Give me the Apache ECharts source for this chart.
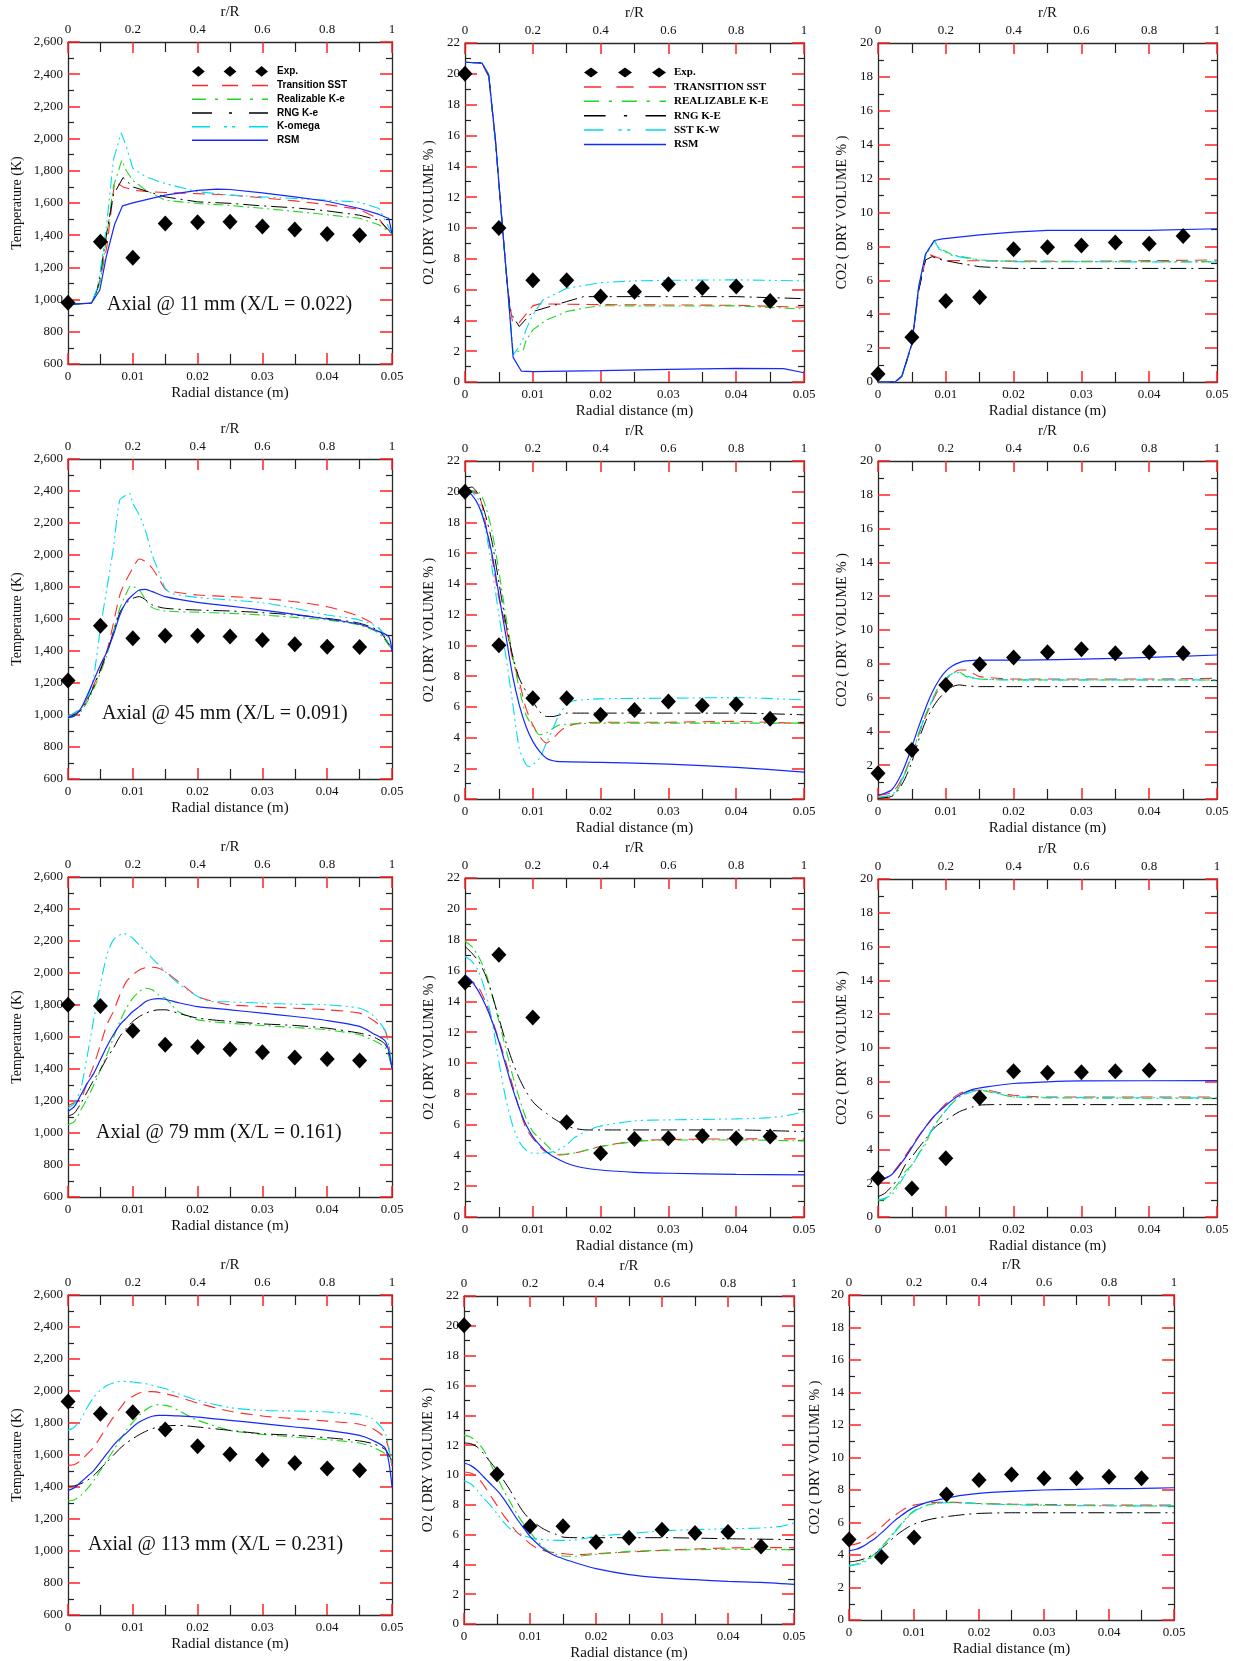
<!DOCTYPE html>
<html><head><meta charset="utf-8">
<script src="https://cdn.jsdelivr.net/npm/echarts/dist/echarts.min.js"></script>
<style>html,body{margin:0;padding:0;background:#fff}#c{width:1233px;height:1661px}</style>
</head><body><div id="c"></div>
<script>
// ---------------- DATA ----------------
const EXP_X = [0,0.005,0.01,0.015,0.02,0.025,0.03,0.035,0.04,0.045];
const X_TICKS = [0,0.01,0.02,0.03,0.04,0.05];
const RR_TICKS = [0,0.2,0.4,0.6,0.8,1];
const ANNOT = ['Axial @ 11 mm (X/L = 0.022)','Axial @ 45 mm (X/L = 0.091)','Axial @ 79 mm (X/L = 0.161)','Axial @ 113 mm (X/L = 0.231)'];
const NAMES_T = ['Transition SST','Realizable K-e','RNG K-e','K-omega','RSM'];
const NAMES_G = ['TRANSITION SST','REALIZABLE K-E','RNG K-E','SST K-W','RSM'];

// Row 1: 11 mm
const T11_exp = [980,1360,1260,1473,1481,1483,1454,1435,1408,1400];
const T11_SST = [[0,970],[0.0036,978],[0.0043,1030],[0.005,1130],[0.006,1330],[0.0072,1732],[0.0085,1700],[0.0094,1688],[0.01,1680],[0.012,1672],[0.015,1665],[0.02,1658],[0.025,1650],[0.03,1632],[0.035,1613],[0.04,1590],[0.045,1560],[0.048,1500],[0.05,1400]];
const T11_RKE = [[0,970],[0.0036,978],[0.0045,1050],[0.005,1120],[0.006,1400],[0.007,1700],[0.0083,1866],[0.009,1800],[0.01,1740],[0.012,1680],[0.015,1617],[0.02,1597],[0.025,1585],[0.03,1567],[0.035,1548],[0.04,1527],[0.045,1505],[0.048,1465],[0.05,1410]];
const T11_RNG = [[0,970],[0.0036,978],[0.0045,1060],[0.005,1160],[0.006,1420],[0.007,1650],[0.0085,1758],[0.0095,1720],[0.01,1700],[0.015,1638],[0.02,1607],[0.025,1598],[0.03,1582],[0.035,1570],[0.04,1551],[0.045,1524],[0.048,1493],[0.05,1410]];
const T11_KW = [[0,970],[0.0036,978],[0.0045,1070],[0.005,1180],[0.006,1480],[0.007,1866],[0.0082,2036],[0.009,1950],[0.01,1815],[0.012,1763],[0.015,1721],[0.02,1670],[0.025,1649],[0.03,1638],[0.035,1628],[0.04,1617],[0.045,1605],[0.048,1566],[0.05,1410]];
const T11_RSM = [[0,970],[0.0036,978],[0.0049,1058],[0.0059,1265],[0.0072,1468],[0.0084,1582],[0.01,1601],[0.015,1649],[0.02,1678],[0.023,1686],[0.025,1684],[0.03,1663],[0.035,1638],[0.04,1611],[0.045,1566],[0.048,1529],[0.0495,1504],[0.05,1410]];

const O11_exp = [20,10,6.6,6.6,5.55,5.85,6.35,6.1,6.2,5.25];
const O11_SST = [[0,20.75],[0.0025,20.7],[0.0035,19.8],[0.0045,15.5],[0.0055,10.3],[0.0062,6.4],[0.007,3.9],[0.008,3.85],[0.01,4.94],[0.011,5.07],[0.015,5.05],[0.02,5.02],[0.03,5.0],[0.04,4.98],[0.05,4.85]];
const O11_RKE = [[0,20.75],[0.0025,20.7],[0.0035,20.0],[0.0045,15.6],[0.0055,10.2],[0.0062,6.5],[0.0071,1.9],[0.0086,2.08],[0.009,2.7],[0.01,3.38],[0.012,4.03],[0.015,4.57],[0.0175,4.79],[0.02,4.95],[0.03,4.93],[0.04,4.94],[0.05,4.74]];
const O11_RNG = [[0,20.75],[0.0025,20.7],[0.0035,19.9],[0.0045,15.6],[0.0055,10.2],[0.0062,6.5],[0.0067,4.5],[0.008,3.6],[0.01,4.57],[0.015,5.22],[0.0175,5.54],[0.02,5.54],[0.03,5.54],[0.04,5.54],[0.05,5.41]];
const O11_KW = [[0,20.75],[0.0025,20.7],[0.0035,19.9],[0.0045,15.6],[0.0055,10.1],[0.0062,6.5],[0.0071,1.75],[0.008,2.3],[0.0085,2.7],[0.009,3.4],[0.01,4.35],[0.0115,5.33],[0.015,6.08],[0.02,6.45],[0.025,6.56],[0.03,6.6],[0.04,6.63],[0.05,6.56]];
const O11_RSM = [[0,20.75],[0.0025,20.7],[0.0035,19.9],[0.0045,15.7],[0.0055,10.1],[0.0062,6.6],[0.0071,1.6],[0.0083,0.71],[0.01,0.67],[0.02,0.74],[0.03,0.82],[0.04,0.89],[0.047,0.87],[0.05,0.6]];

const C11_exp = [0.47,2.64,4.78,5.0,7.83,7.95,8.05,8.23,8.15,8.62];
const C11_SST = [[0,0],[0.0025,0],[0.0035,0.3],[0.005,2.2],[0.006,5.4],[0.007,7.2],[0.0077,7.5],[0.01,7.17],[0.015,7.15],[0.03,7.12],[0.05,7.2]];
const C11_RKE = [[0,0],[0.0025,0],[0.0035,0.3],[0.005,2.2],[0.006,5.5],[0.007,7.4],[0.0083,8.35],[0.009,7.9],[0.011,7.5],[0.015,7.2],[0.02,7.1],[0.05,7.1]];
const C11_RNG = [[0,0],[0.0025,0],[0.0035,0.3],[0.005,2.2],[0.006,5.4],[0.007,7.2],[0.008,7.4],[0.009,7.24],[0.012,7.0],[0.015,6.8],[0.02,6.7],[0.05,6.7]];
const C11_KW = [[0,0],[0.0025,0],[0.0035,0.3],[0.005,2.25],[0.006,5.6],[0.007,7.5],[0.0083,8.35],[0.009,7.85],[0.011,7.45],[0.015,7.18],[0.02,7.1],[0.05,7.08]];
const C11_RSM = [[0,0],[0.0025,0],[0.0035,0.35],[0.005,2.28],[0.006,5.63],[0.007,7.54],[0.0083,8.35],[0.0095,8.44],[0.015,8.68],[0.02,8.84],[0.025,8.94],[0.04,8.94],[0.05,9.04]];

// Row 2: 45 mm
const T45_exp = [1215,1558,1479,1496,1496,1490,1469,1442,1427,1425];
const T45_SST = [[0,990],[0.002,1040],[0.004,1190],[0.006,1400],[0.008,1750],[0.009,1844],[0.01,1917],[0.011,1975],[0.012,1958],[0.013,1917],[0.014,1854],[0.015,1787],[0.016,1771],[0.02,1750],[0.025,1740],[0.03,1729],[0.035,1708],[0.04,1677],[0.045,1615],[0.048,1542],[0.05,1410]];
const T45_RKE = [[0,980],[0.002,1021],[0.004,1167],[0.006,1375],[0.008,1667],[0.009,1760],[0.0097,1808],[0.011,1781],[0.012,1719],[0.013,1671],[0.015,1650],[0.02,1642],[0.025,1635],[0.03,1625],[0.035,1610],[0.04,1594],[0.045,1562],[0.048,1510],[0.05,1410]];
const T45_RNG = [[0,985],[0.002,1030],[0.004,1180],[0.006,1390],[0.008,1640],[0.009,1700],[0.01,1729],[0.011,1740],[0.012,1719],[0.013,1688],[0.015,1667],[0.02,1656],[0.025,1650],[0.03,1640],[0.035,1625],[0.04,1604],[0.045,1573],[0.048,1525],[0.05,1410]];
const T45_KW = [[0,990],[0.002,1042],[0.003,1104],[0.004,1250],[0.005,1542],[0.006,1792],[0.007,2042],[0.008,2344],[0.009,2375],[0.0095,2385],[0.01,2323],[0.011,2250],[0.012,2146],[0.013,2000],[0.014,1896],[0.015,1792],[0.016,1760],[0.02,1735],[0.025,1719],[0.03,1702],[0.035,1667],[0.04,1625],[0.045,1594],[0.048,1542],[0.05,1410]];
const T45_RSM = [[0,985],[0.001,994],[0.002,1042],[0.003,1125],[0.004,1219],[0.005,1312],[0.006,1396],[0.007,1500],[0.008,1625],[0.009,1708],[0.01,1750],[0.011,1781],[0.012,1785],[0.013,1771],[0.015,1740],[0.02,1704],[0.025,1681],[0.03,1656],[0.035,1629],[0.04,1600],[0.045,1567],[0.048,1521],[0.0495,1490],[0.05,1396]];

const O45_exp = [20.0,10.0,6.56,6.56,5.48,5.8,6.34,6.08,6.17,5.22];
const O45_SST = [[0,20.0],[0.002,19.8],[0.003,18.0],[0.004,15.66],[0.005,13.06],[0.006,11.3],[0.007,9.16],[0.008,7.64],[0.009,5.9],[0.01,4.83],[0.011,4.07],[0.012,3.64],[0.013,3.96],[0.014,4.4],[0.015,4.72],[0.017,4.94],[0.02,5.0],[0.03,5.0],[0.04,5.05],[0.05,4.9]];
const O45_RKE = [[0,20.1],[0.002,20.0],[0.003,19.1],[0.004,17.4],[0.005,14.8],[0.006,12.0],[0.007,9.38],[0.008,7.2],[0.009,5.48],[0.01,4.72],[0.011,4.18],[0.012,4.29],[0.013,4.61],[0.014,4.83],[0.015,4.87],[0.02,4.94],[0.03,4.94],[0.04,4.94],[0.05,4.94]];
const O45_RNG = [[0,20.2],[0.001,20.3],[0.002,19.8],[0.003,18.5],[0.004,16.7],[0.005,14.1],[0.006,11.5],[0.007,9.38],[0.008,7.86],[0.009,7.0],[0.01,6.34],[0.011,5.7],[0.012,5.37],[0.013,5.37],[0.014,5.48],[0.015,5.59],[0.02,5.59],[0.03,5.59],[0.04,5.59],[0.05,5.48]];
const O45_KW = [[0,20.1],[0.001,20.0],[0.002,19.45],[0.003,17.6],[0.004,15.0],[0.005,11.97],[0.006,9.38],[0.007,6.34],[0.008,3.31],[0.009,2.23],[0.0095,2.12],[0.01,2.23],[0.011,2.66],[0.012,3.64],[0.013,4.61],[0.014,5.59],[0.015,6.13],[0.016,6.39],[0.02,6.52],[0.03,6.56],[0.04,6.6],[0.05,6.45]];
const O45_RSM = [[0,20.1],[0.001,19.8],[0.002,19.1],[0.003,17.8],[0.004,15.9],[0.005,13.3],[0.006,10.7],[0.007,8.08],[0.008,6.13],[0.009,4.72],[0.01,3.75],[0.011,3.1],[0.012,2.66],[0.013,2.49],[0.014,2.43],[0.02,2.38],[0.03,2.27],[0.04,2.06],[0.05,1.75]];

const C45_exp = [1.52,2.9,6.75,7.97,8.38,8.68,8.86,8.62,8.68,8.62];
const C45_SST = [[0,0.2],[0.002,0.4],[0.003,0.83],[0.004,1.62],[0.005,2.6],[0.006,3.79],[0.007,4.87],[0.008,5.76],[0.009,6.55],[0.01,7.04],[0.011,7.44],[0.012,7.63],[0.013,7.63],[0.014,7.44],[0.015,7.24],[0.02,7.1],[0.03,7.1],[0.04,7.1],[0.05,7.14]];
const C45_RKE = [[0,0.08],[0.002,0.2],[0.003,0.63],[0.004,1.52],[0.005,2.6],[0.006,3.89],[0.007,4.97],[0.008,5.86],[0.009,6.7],[0.01,7.14],[0.011,7.44],[0.012,7.5],[0.013,7.24],[0.015,7.1],[0.02,7.05],[0.05,7.04]];
const C45_RNG = [[0,0.04],[0.002,0.15],[0.003,0.53],[0.004,1.22],[0.005,2.2],[0.006,3.49],[0.007,4.57],[0.008,5.36],[0.009,5.95],[0.01,6.35],[0.011,6.65],[0.012,6.75],[0.013,6.7],[0.015,6.65],[0.02,6.65],[0.05,6.65]];
const C45_KW = [[0,0.1],[0.002,0.25],[0.003,0.7],[0.004,1.55],[0.005,2.55],[0.006,3.85],[0.007,4.95],[0.008,5.85],[0.009,6.68],[0.01,7.12],[0.011,7.42],[0.012,7.48],[0.013,7.3],[0.015,7.1],[0.02,7.05],[0.05,7.05]];
const C45_RSM = [[0,0.24],[0.001,0.34],[0.002,0.53],[0.003,1.12],[0.004,2.0],[0.005,3.1],[0.006,4.28],[0.007,5.36],[0.008,6.31],[0.009,7.04],[0.01,7.57],[0.011,7.89],[0.012,8.07],[0.013,8.17],[0.015,8.22],[0.02,8.22],[0.03,8.28],[0.04,8.38],[0.05,8.52]];

// Row 3: 79 mm
const T79_exp = [1801,1793,1639,1551,1537,1524,1505,1472,1462,1453];
const T79_SST = [[0,1170],[0.002,1218],[0.003,1322],[0.004,1426],[0.005,1551],[0.006,1676],[0.007,1759],[0.008,1863],[0.009,1946],[0.01,1988],[0.011,2019],[0.012,2034],[0.013,2036],[0.014,2030],[0.015,2009],[0.017,1947],[0.02,1853],[0.022,1826],[0.025,1801],[0.03,1790],[0.035,1780],[0.04,1770],[0.045,1749],[0.047,1707],[0.049,1634],[0.05,1405]];
const T79_RKE = [[0,1052],[0.001,1073],[0.002,1145],[0.003,1218],[0.004,1301],[0.005,1395],[0.006,1489],[0.007,1593],[0.008,1697],[0.009,1780],[0.01,1843],[0.011,1884],[0.012,1905],[0.013,1895],[0.014,1863],[0.015,1843],[0.016,1801],[0.017,1759],[0.02,1707],[0.025,1686],[0.03,1672],[0.035,1659],[0.04,1645],[0.045,1614],[0.047,1582],[0.049,1530],[0.05,1405]];
const T79_RNG = [[0,1104],[0.001,1125],[0.002,1187],[0.003,1260],[0.004,1333],[0.005,1395],[0.006,1468],[0.007,1530],[0.008,1603],[0.009,1655],[0.01,1697],[0.011,1728],[0.012,1749],[0.013,1763],[0.014,1770],[0.015,1770],[0.017,1749],[0.02,1718],[0.025,1697],[0.03,1682],[0.035,1672],[0.04,1655],[0.045,1624],[0.047,1603],[0.049,1551],[0.05,1405]];
const T79_KW = [[0,1156],[0.001,1187],[0.002,1281],[0.003,1489],[0.004,1718],[0.005,1926],[0.006,2113],[0.007,2207],[0.008,2238],[0.0085,2248],[0.009,2242],[0.01,2217],[0.011,2175],[0.012,2134],[0.013,2092],[0.015,2009],[0.017,1936],[0.02,1853],[0.022,1822],[0.025,1820],[0.03,1811],[0.035,1805],[0.04,1801],[0.045,1780],[0.047,1738],[0.049,1634],[0.05,1405]];
const T79_RSM = [[0,1135],[0.001,1166],[0.002,1239],[0.003,1312],[0.004,1374],[0.005,1458],[0.006,1541],[0.007,1614],[0.008,1676],[0.009,1718],[0.01,1759],[0.011,1790],[0.012,1822],[0.013,1836],[0.014,1840],[0.015,1836],[0.017,1815],[0.02,1790],[0.025,1770],[0.03,1749],[0.035,1728],[0.04,1703],[0.045,1666],[0.047,1624],[0.049,1572],[0.05,1405]];

const O79_exp = [15.22,17.02,12.95,6.15,4.14,5.07,5.11,5.26,5.11,5.22];
const O79_SST = [[0,15.6],[0.001,15.3],[0.002,14.9],[0.003,14.0],[0.004,12.8],[0.005,11.5],[0.006,10.1],[0.007,8.58],[0.008,7.06],[0.009,5.76],[0.01,5.11],[0.011,4.57],[0.012,4.2],[0.013,4.07],[0.014,4.03],[0.015,4.07],[0.017,4.24],[0.02,4.57],[0.025,4.94],[0.03,5.02],[0.04,5.07],[0.05,5.07]];
const O79_RKE = [[0,17.9],[0.001,17.56],[0.002,16.9],[0.003,15.94],[0.004,14.42],[0.005,12.69],[0.006,10.96],[0.007,9.22],[0.008,7.71],[0.009,6.41],[0.01,5.54],[0.011,5.11],[0.012,4.68],[0.013,4.24],[0.014,4.07],[0.016,4.14],[0.018,4.35],[0.02,4.57],[0.025,4.89],[0.03,5.0],[0.04,5.0],[0.05,4.94]];
const O79_RNG = [[0,17.56],[0.001,17.13],[0.002,16.59],[0.003,15.72],[0.004,14.42],[0.005,12.9],[0.006,11.39],[0.007,10.09],[0.008,9.0],[0.009,8.14],[0.01,7.49],[0.011,7.06],[0.012,6.73],[0.013,6.41],[0.014,6.15],[0.015,5.93],[0.016,5.76],[0.018,5.65],[0.02,5.65],[0.03,5.65],[0.04,5.65],[0.05,5.54]];
const O79_KW = [[0,16.9],[0.001,16.59],[0.002,15.94],[0.003,14.64],[0.004,12.69],[0.005,10.09],[0.006,7.71],[0.007,5.98],[0.008,4.89],[0.009,4.35],[0.01,4.14],[0.011,4.14],[0.012,4.18],[0.013,4.24],[0.014,4.42],[0.015,4.68],[0.016,5.1],[0.018,5.6],[0.02,5.9],[0.025,6.24],[0.03,6.3],[0.04,6.37],[0.045,6.45],[0.048,6.63],[0.05,6.84]];
const O79_RSM = [[0,15.72],[0.001,15.29],[0.002,14.64],[0.003,13.77],[0.004,12.69],[0.005,11.39],[0.006,9.87],[0.007,8.36],[0.008,7.06],[0.009,5.98],[0.01,5.22],[0.011,4.68],[0.012,4.24],[0.013,3.92],[0.015,3.49],[0.017,3.23],[0.02,3.05],[0.025,2.9],[0.03,2.84],[0.04,2.77],[0.05,2.73]];

const C79_exp = [2.29,1.69,3.47,7.05,8.63,8.53,8.57,8.63,8.69];
const C79_SST = [[0,2.05],[0.002,2.55],[0.004,3.6],[0.006,4.8],[0.008,5.8],[0.01,6.7],[0.012,7.3],[0.014,7.5],[0.016,7.5],[0.018,7.35],[0.02,7.2],[0.025,7.1],[0.05,7.1]];
const C79_RKE = [[0,1.0],[0.001,1.05],[0.002,1.5],[0.003,2.0],[0.004,2.68],[0.005,3.07],[0.006,3.76],[0.007,4.3],[0.008,5.24],[0.009,5.8],[0.01,6.33],[0.012,7.11],[0.014,7.5],[0.015,7.5],[0.017,7.35],[0.02,7.11],[0.025,7.05],[0.05,7.02]];
const C79_RNG = [[0,1.2],[0.001,1.4],[0.002,1.8],[0.003,2.3],[0.004,3.07],[0.005,3.57],[0.006,4.1],[0.007,4.6],[0.008,5.14],[0.009,5.5],[0.01,5.73],[0.012,6.23],[0.014,6.52],[0.015,6.62],[0.017,6.65],[0.02,6.65],[0.05,6.65]];
const C79_KW = [[0,1.0],[0.002,1.3],[0.004,2.5],[0.006,3.7],[0.008,5.2],[0.01,6.3],[0.012,7.1],[0.015,7.5],[0.017,7.4],[0.02,7.1],[0.05,7.05]];
const C79_RSM = [[0,2.1],[0.002,2.5],[0.004,3.5],[0.006,4.75],[0.008,5.85],[0.01,6.6],[0.012,7.2],[0.014,7.55],[0.016,7.7],[0.02,7.9],[0.025,8.0],[0.03,8.05],[0.05,8.07]];

// Row 4: 113 mm
const T113_exp = [1935,1858,1867,1760,1654,1604,1569,1550,1515,1504];
const T113_SST = [[0,1535],[0.001,1540],[0.002,1567],[0.003,1608],[0.004,1650],[0.005,1712],[0.006,1775],[0.007,1837],[0.008,1890],[0.009,1942],[0.01,1967],[0.011,1987],[0.012,1996],[0.013,1996],[0.015,1983],[0.017,1962],[0.02,1925],[0.025,1873],[0.03,1844],[0.035,1827],[0.04,1812],[0.045,1792],[0.047,1765],[0.049,1702],[0.05,1530]];
const T113_RKE = [[0,1312],[0.001,1321],[0.002,1348],[0.003,1390],[0.004,1442],[0.005,1504],[0.006,1567],[0.007,1629],[0.008,1692],[0.009,1754],[0.01,1806],[0.011,1848],[0.012,1883],[0.013,1906],[0.014,1915],[0.015,1910],[0.016,1900],[0.017,1879],[0.019,1837],[0.02,1817],[0.025,1754],[0.03,1729],[0.035,1712],[0.04,1696],[0.045,1675],[0.047,1650],[0.049,1608],[0.05,1570]];
const T113_RNG = [[0,1404],[0.001,1408],[0.002,1421],[0.003,1442],[0.004,1473],[0.005,1515],[0.006,1556],[0.007,1598],[0.008,1640],[0.009,1675],[0.01,1702],[0.011,1727],[0.012,1748],[0.013,1765],[0.014,1775],[0.015,1781],[0.017,1785],[0.02,1775],[0.025,1754],[0.03,1733],[0.035,1723],[0.04,1708],[0.045,1688],[0.047,1671],[0.049,1633],[0.05,1560]];
const T113_KW = [[0,1754],[0.001,1775],[0.002,1827],[0.003,1900],[0.004,1962],[0.005,2004],[0.006,2035],[0.007,2050],[0.008,2060],[0.009,2060],[0.01,2056],[0.012,2046],[0.014,2025],[0.015,2015],[0.017,1983],[0.02,1942],[0.025,1896],[0.03,1879],[0.035,1875],[0.04,1869],[0.045,1852],[0.047,1827],[0.049,1733],[0.05,1525]];
const T113_RSM = [[0,1379],[0.001,1396],[0.002,1431],[0.003,1467],[0.004,1504],[0.005,1556],[0.006,1608],[0.007,1660],[0.008,1702],[0.009,1737],[0.01,1775],[0.011,1806],[0.012,1827],[0.013,1842],[0.014,1848],[0.015,1848],[0.017,1844],[0.02,1837],[0.025,1817],[0.03,1796],[0.035,1775],[0.04,1754],[0.045,1723],[0.047,1692],[0.049,1640],[0.05,1400]];

const O113_exp = [20.03,10.04,6.55,6.55,5.5,5.79,6.33,6.1,6.17,5.2];
const O113_SST = [[0,10.2],[0.001,10.13],[0.002,9.86],[0.003,9.3],[0.004,8.63],[0.005,7.96],[0.006,7.29],[0.007,6.73],[0.008,6.17],[0.009,5.79],[0.01,5.39],[0.011,5.1],[0.012,4.94],[0.013,4.83],[0.015,4.72],[0.017,4.65],[0.02,4.72],[0.025,4.83],[0.03,4.94],[0.035,5.03],[0.04,5.1],[0.045,5.12],[0.05,5.12]];
const O113_RKE = [[0,12.65],[0.001,12.54],[0.002,12.2],[0.003,11.65],[0.004,10.75],[0.005,9.86],[0.006,8.96],[0.007,8.18],[0.008,7.4],[0.009,6.73],[0.01,6.17],[0.011,5.61],[0.012,5.16],[0.013,4.83],[0.014,4.67],[0.015,4.56],[0.017,4.54],[0.02,4.67],[0.025,4.87],[0.03,4.94],[0.04,5.01],[0.05,4.98]];
const O113_RNG = [[0,12.14],[0.001,12.1],[0.002,11.87],[0.003,11.42],[0.004,10.86],[0.005,10.31],[0.006,9.64],[0.007,8.96],[0.008,8.18],[0.009,7.51],[0.01,7.0],[0.011,6.68],[0.012,6.39],[0.013,6.17],[0.014,6.01],[0.015,5.83],[0.017,5.79],[0.02,5.79],[0.03,5.79],[0.04,5.72],[0.05,5.66]];
const O113_KW = [[0,9.59],[0.001,9.41],[0.002,8.96],[0.003,8.41],[0.004,7.96],[0.005,7.4],[0.006,6.84],[0.007,6.39],[0.008,6.17],[0.009,5.95],[0.01,5.79],[0.012,5.66],[0.014,5.61],[0.016,5.61],[0.018,5.72],[0.02,5.88],[0.025,6.06],[0.03,6.24],[0.035,6.33],[0.04,6.39],[0.045,6.44],[0.048,6.55],[0.05,6.77]];
const O113_RSM = [[0,10.8],[0.001,10.64],[0.002,10.31],[0.003,9.86],[0.004,9.41],[0.005,8.96],[0.006,8.41],[0.007,7.74],[0.008,7.06],[0.009,6.46],[0.01,5.88],[0.011,5.43],[0.012,5.05],[0.013,4.76],[0.014,4.54],[0.015,4.38],[0.017,4.09],[0.02,3.71],[0.025,3.31],[0.03,3.09],[0.035,2.97],[0.04,2.86],[0.045,2.79],[0.05,2.66]];

const C113_exp = [4.95,3.88,5.08,7.73,8.61,8.96,8.72,8.72,8.82,8.72];
const C113_SST = [[0,4.6],[0.001,4.67],[0.002,4.81],[0.003,5.08],[0.004,5.36],[0.005,5.73],[0.006,6.1],[0.007,6.43],[0.008,6.7],[0.009,6.93],[0.01,7.07],[0.012,7.21],[0.014,7.24],[0.016,7.24],[0.02,7.17],[0.025,7.13],[0.03,7.11],[0.04,7.07],[0.05,7.07]];
const C113_RKE = [[0,3.37],[0.001,3.43],[0.002,3.58],[0.003,3.78],[0.004,4.09],[0.005,4.5],[0.006,4.95],[0.007,5.43],[0.008,5.9],[0.009,6.35],[0.01,6.72],[0.012,7.07],[0.014,7.21],[0.016,7.24],[0.02,7.17],[0.025,7.11],[0.03,7.07],[0.04,7.03],[0.05,7.01]];
const C113_RNG = [[0,3.58],[0.001,3.62],[0.002,3.72],[0.003,3.88],[0.004,4.09],[0.005,4.4],[0.006,4.75],[0.007,5.12],[0.008,5.43],[0.009,5.69],[0.01,5.9],[0.012,6.15],[0.014,6.31],[0.016,6.41],[0.018,6.5],[0.02,6.56],[0.025,6.6],[0.05,6.6]];
const C113_KW = [[0,3.3],[0.002,3.5],[0.004,4.0],[0.006,4.9],[0.008,5.85],[0.01,6.68],[0.012,7.05],[0.014,7.2],[0.016,7.22],[0.02,7.15],[0.03,7.05],[0.05,7.02]];
const C113_RSM = [[0,4.25],[0.001,4.34],[0.002,4.5],[0.003,4.75],[0.004,5.02],[0.005,5.36],[0.006,5.73],[0.007,6.1],[0.008,6.41],[0.009,6.7],[0.01,6.93],[0.012,7.24],[0.014,7.42],[0.015,7.5],[0.017,7.65],[0.02,7.79],[0.025,7.91],[0.03,8.0],[0.035,8.04],[0.04,8.08],[0.045,8.1],[0.05,8.14]];

// ---------------- LAYOUT / STYLE ----------------
const PANELS = [
  {kind:'T', exp:T11_exp, s:[T11_SST,T11_RKE,T11_RNG,T11_KW,T11_RSM], smooth:false},
  {kind:'O', exp:O11_exp, s:[O11_SST,O11_RKE,O11_RNG,O11_KW,O11_RSM], smooth:false},
  {kind:'C', exp:C11_exp, s:[C11_SST,C11_RKE,C11_RNG,C11_KW,C11_RSM], smooth:false},
  {kind:'T', exp:T45_exp, s:[T45_SST,T45_RKE,T45_RNG,T45_KW,T45_RSM], smooth:0.25},
  {kind:'O', exp:O45_exp, s:[O45_SST,O45_RKE,O45_RNG,O45_KW,O45_RSM], smooth:0.25},
  {kind:'C', exp:C45_exp, s:[C45_SST,C45_RKE,C45_RNG,C45_KW,C45_RSM], smooth:0.25},
  {kind:'T', exp:T79_exp, s:[T79_SST,T79_RKE,T79_RNG,T79_KW,T79_RSM], smooth:0.25},
  {kind:'O', exp:O79_exp, s:[O79_SST,O79_RKE,O79_RNG,O79_KW,O79_RSM], smooth:0.25},
  {kind:'C', exp:C79_exp, s:[C79_SST,C79_RKE,C79_RNG,C79_KW,C79_RSM], smooth:0.25},
  {kind:'T', exp:T113_exp, s:[T113_SST,T113_RKE,T113_RNG,T113_KW,T113_RSM], smooth:0.25},
  {kind:'O', exp:O113_exp, s:[O113_SST,O113_RKE,O113_RNG,O113_KW,O113_RSM], smooth:0.25},
  {kind:'C', exp:C113_exp, s:[C113_SST,C113_RKE,C113_RNG,C113_KW,C113_RSM], smooth:0.25}
];
const GRID_POS = [
  [68,42,324,322],[465,43,339,339],[878,43,339,339],
  [68,459,324,320],[465,461,339,338],[878,461,339,338],
  [68,877,324,320],[465,878,339,339],[878,879,339,338],
  [68,1295,324,320],[464,1296,330,328],[849,1295,325,325]
];
const Y_NAME_GAP = [44,29,29,44,29,29,44,29,29,44,29,27];
const ANNOT_POS = [[107,295],[102,704],[96,1123],[88,1535]];
const YCFG = {
  T:{min:600,max:2600,interval:200,name:'Temperature (K)'},
  O:{min:0,max:22,interval:2,name:'O2 ( DRY VOLUME % )'},
  C:{min:0,max:20,interval:2,name:'CO2 ( DRY VOLUME % )'}
};
const STY = [
  {color:'#ff2a2a', type:[12,7], width:1.1},
  {color:'#1fd81f', type:[10,4,2,4], width:1.1},
  {color:'#000000', type:[16,5,2,5], width:1.0},
  {color:'#00dcee', type:[12,4,2,4,2,4], width:1.1},
  {color:'#1428ff', type:'solid', width:1.2}
];
const ICON_PAT = [
  [16,14,16,14,16],
  [14,9,3,9,14,9,3,9,6],
  [20,17,3,17,19],
  [18,14,3,5,3,14,19],
  [76]
];
const SERIF = 'Liberation Serif';
const RED = '#ff2020';

function dashPath(segs, W, th){
  const tot = segs.reduce((a,b)=>a+b,0), k = W/tot;
  let x = 0, p = 'path://';
  segs.forEach((s,i)=>{ const w = s*k; if(i%2===0){ p += 'M'+x.toFixed(2)+' 0L'+(x+w).toFixed(2)+' 0L'+(x+w).toFixed(2)+' '+th+'L'+x.toFixed(2)+' '+th+'Z'; } x += w; });
  return p;
}
function diamondsPath(centers, w, h){
  let p = 'path://';
  centers.forEach(c=>{ p += 'M'+(c-w/2)+' '+(h/2)+'L'+c+' 0L'+(c+w/2)+' '+(h/2)+'L'+c+' '+h+'Z'; });
  return p;
}

const grids=[], xAxes=[], yAxes=[], series=[], titles=[];
const baseFont = {fontFamily:SERIF, color:'#111'};
PANELS.forEach((P,g)=>{
  const gp = GRID_POS[g];
  grids.push({left:gp[0], top:gp[1], width:gp[2], height:gp[3], containLabel:false, outerBoundsMode:'none'});
  const lineAx = {show:true, onZero:false, lineStyle:{color:'#2a2a2a', width:1.3}};
  const tickX = {show:true, inside:true, length:11, lineStyle:{color:RED, width:1.5}};
  const minorX = {show:true, splitNumber:2, length:10, lineStyle:{color:'#222', width:1.2}};
  const tickY = {show:true, inside:true, length:12, lineStyle:{color:RED, width:1.5}};
  const minorY = {show:true, splitNumber:2, length:6, lineStyle:{color:'#222', width:1.2}};
  xAxes.push({type:'value', gridIndex:g, position:'bottom', min:X_TICKS[0], max:X_TICKS[X_TICKS.length-1], interval:X_TICKS[1]-X_TICKS[0],
    name:'Radial distance (m)', nameLocation:'middle', nameGap:22, nameTextStyle:Object.assign({fontSize:15},baseFont),
    axisLine:lineAx, axisTick:tickX, minorTick:minorX, splitLine:{show:false}, minorSplitLine:{show:false},
    axisLabel:Object.assign({fontSize:13, margin:6}, baseFont)});
  xAxes.push({type:'value', gridIndex:g, position:'top', min:RR_TICKS[0], max:RR_TICKS[RR_TICKS.length-1], interval:RR_TICKS[1]-RR_TICKS[0],
    name:'r/R', nameLocation:'middle', nameGap:22, nameTextStyle:Object.assign({fontSize:15},baseFont),
    axisLine:lineAx, axisTick:tickX, minorTick:minorX, splitLine:{show:false}, minorSplitLine:{show:false},
    axisLabel:Object.assign({fontSize:13, margin:6}, baseFont)});
  const yc = YCFG[P.kind];
  yAxes.push({type:'value', gridIndex:g, position:'left', min:yc.min, max:yc.max, interval:yc.interval,
    name:yc.name, nameLocation:'middle', nameGap:Y_NAME_GAP[g], nameTextStyle:Object.assign({fontSize:14},baseFont),
    axisLine:lineAx, axisTick:tickY, minorTick:minorY, splitLine:{show:false}, minorSplitLine:{show:false},
    axisLabel:Object.assign({fontSize:13, margin:5}, baseFont)});
  yAxes.push({type:'value', gridIndex:g, position:'right', min:yc.min, max:yc.max, interval:yc.interval,
    axisLine:lineAx, axisTick:tickY, minorTick:minorY, splitLine:{show:false}, minorSplitLine:{show:false},
    axisLabel:{show:false}});
  const names = P.kind==='T' ? NAMES_T : NAMES_G;
  P.s.forEach((d,i)=>{
    series.push({type:'line', name:names[i], data:d, xAxisIndex:2*g, yAxisIndex:2*g, symbol:'none', showSymbol:false,
      smooth:P.smooth, lineStyle:{color:STY[i].color, width:STY[i].width, type:STY[i].type}, itemStyle:{color:STY[i].color},
      z:3+i*0.1, silent:true, animation:false});
  });
  series.push({type:'scatter', name:'Exp.', data:P.exp.map((v,i)=>[EXP_X[i], v]), xAxisIndex:2*g, yAxisIndex:2*g,
    symbol:'diamond', symbolSize:[15,16], itemStyle:{color:'#000', opacity:1}, z:6, clip:false, silent:true, animation:false});
});
ANNOT.forEach((t,i)=>{
  titles.push({text:t, left:ANNOT_POS[i][0], top:ANNOT_POS[i][1], padding:0,
    textStyle:{fontFamily:SERIF, fontWeight:'normal', fontSize:20, color:'#111'}});
});

function legendData(names, W, centers, dw, dh){
  const d = [{name:'Exp.', icon:diamondsPath(centers, dw, dh), itemStyle:{opacity:1, color:'#000'}}];
  names.forEach((n,i)=>d.push({name:n, icon:dashPath(ICON_PAT[i], W, 1.5)}));
  return d;
}
const legends = [
  {orient:'vertical', left:192, top:66, padding:0, itemWidth:76, itemHeight:11, itemGap:3.7, selectedMode:false,
   symbolKeepAspect:true, itemStyle:{borderWidth:0},
   textStyle:{fontFamily:'Liberation Sans', fontWeight:'bold', fontSize:10, lineHeight:10, color:'#000', padding:[0,0,0,4]},
   data:legendData(NAMES_T, 76, [6,38,70], 13, 11)},
  {orient:'vertical', left:584, top:67, padding:0, itemWidth:82, itemHeight:11, itemGap:3.4, selectedMode:false,
   symbolKeepAspect:true, itemStyle:{borderWidth:0},
   textStyle:{fontFamily:SERIF, fontWeight:'bold', fontSize:11, lineHeight:10, color:'#000', padding:[0,0,0,3]},
   data:legendData(NAMES_G, 82, [7,41,75], 14, 10)}
];

const chart = echarts.init(document.getElementById('c'), null, {renderer:'canvas'});
chart.setOption({
  animation:false, backgroundColor:'#fff',
  title:titles, legend:legends, grid:grids, xAxis:xAxes, yAxis:yAxes, series:series
});
</script></body></html>
